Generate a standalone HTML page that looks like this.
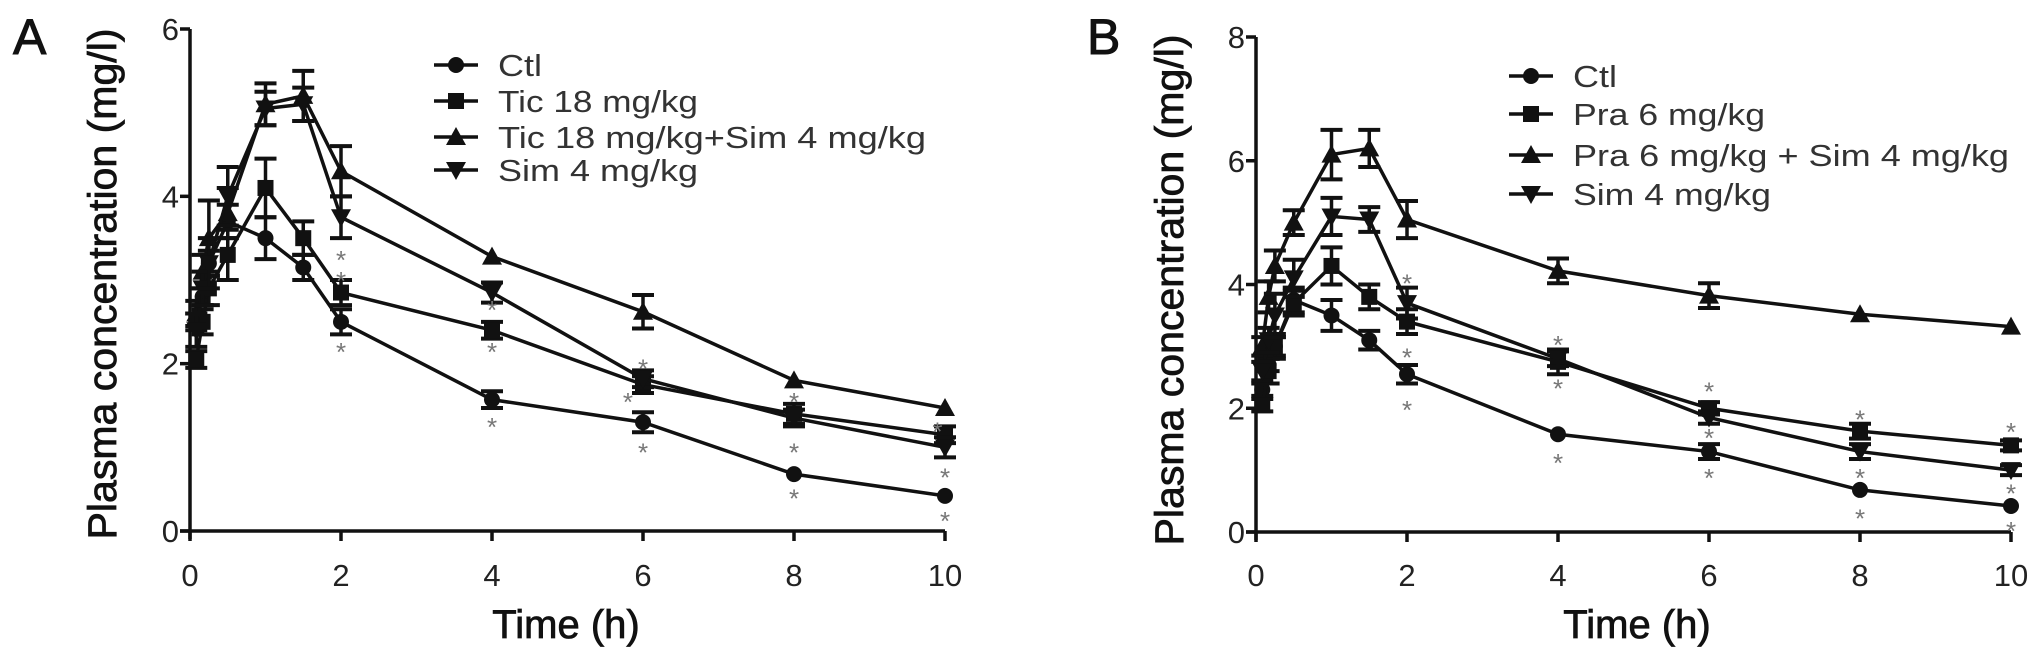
<!DOCTYPE html>
<html><head><meta charset="utf-8"><style>
body{margin:0;background:#fff;}
svg{display:block;font-family:"Liberation Sans",Arial,sans-serif;}
</style></head><body>
<svg id="fig" width="2031" height="657" viewBox="0 0 2031 657" xmlns="http://www.w3.org/2000/svg"></svg>
<script>
// ---- shared data ----
const times = [0.083, 0.167, 0.25, 0.5, 1, 1.5, 2, 4, 6, 8, 10];
const xTicks = [0, 2, 4, 6, 8, 10];
const yTicksA = [0, 2, 4, 6];
const yTicksB = [0, 2, 4, 6, 8];
// Panel A
const namesA = ["Ctl", "Tic 18 mg/kg", "Tic 18 mg/kg+Sim 4 mg/kg", "Sim 4 mg/kg"];
const ctlA    = [2.5, 2.8, 3.2, 3.7, 3.5, 3.15, 2.5, 1.57, 1.3, 0.68, 0.42];
const ticA    = [2.05, 2.5, 2.9, 3.3, 4.1, 3.5, 2.85, 2.4, 1.75, 1.4, 1.15];
const ticSimA = [2.6, 3.1, 3.5, 3.8, 5.1, 5.2, 4.3, 3.28, 2.62, 1.8, 1.47];
const simA    = [2.4, 2.9, 3.2, 4.0, 5.05, 5.1, 3.75, 2.85, 1.82, 1.35, 1.0];
const errCtlA    = [0.1, 0.1, 0.15, 0.2, 0.25, 0.15, 0.15, 0.1, 0.12, 0.05, 0.05];
const errTicA    = [0.1, 0.15, 0.2, 0.3, 0.35, 0.2, 0.15, 0.1, 0.1, 0.12, 0.1];
const errTicSimA = [0.15, 0.2, 0.45, 0.3, 0.25, 0.3, 0.3, 0.05, 0.2, 0.05, 0.05];
const errSimA    = [0.2, 0.2, 0.3, 0.35, 0.2, 0.2, 0.25, 0.12, 0.1, 0.1, 0.12];
const starsA = [[2,3.3],[2,3.05],[2,2.2],[4,2.7],[4,2.2],[4,1.3],[6,2.0],[5.8,1.6],[6,1.0],[8,1.6],[8,1.0],[8,0.45],[9.9,1.25],[10,0.7],[10,0.18]];
// Panel B
const namesB = ["Ctl", "Pra 6 mg/kg", "Pra 6 mg/kg + Sim 4 mg/kg", "Sim 4 mg/kg"];
const ctlB    = [2.3, 2.7, 3.0, 3.75, 3.5, 3.1, 2.55, 1.58, 1.3, 0.68, 0.42];
const praB    = [2.05, 2.6, 3.0, 3.7, 4.3, 3.8, 3.4, 2.75, 2.0, 1.63, 1.4];
const praSimB = [3.0, 3.8, 4.3, 5.0, 6.1, 6.2, 5.05, 4.22, 3.82, 3.52, 3.32];
const simB    = [2.6, 3.1, 3.5, 4.1, 5.1, 5.05, 3.7, 2.8, 1.85, 1.3, 1.0];
const errCtlB    = [0.1, 0.1, 0.15, 0.2, 0.25, 0.15, 0.15, 0.05, 0.12, 0.05, 0.05];
const errPraB    = [0.1, 0.2, 0.2, 0.2, 0.3, 0.2, 0.2, 0.2, 0.1, 0.12, 0.08];
const errPraSimB = [0.15, 0.25, 0.25, 0.2, 0.4, 0.3, 0.3, 0.2, 0.2, 0.05, 0.05];
const errSimB    = [0.15, 0.2, 0.35, 0.3, 0.3, 0.2, 0.25, 0.12, 0.1, 0.12, 0.08];
const starsB = [[2,4.1],[2,2.9],[2,2.05],[4,3.1],[4,2.4],[4,1.2],[6,2.35],[6,1.6],[6,0.95],[8,1.9],[8,0.95],[8,0.3],[10,1.7],[10,0.7],[10,0.1]];

const NS = "http://www.w3.org/2000/svg";
const svg = document.getElementById("fig");
function mk(tag, attrs, parent){const e=document.createElementNS(NS,tag);for(const k in attrs)e.setAttribute(k,attrs[k]);(parent||svg).appendChild(e);return e;}

function marker(g, kind, cx, cy){
  let e;
  if(kind==="circle"){e=mk("circle",{cx:cx,cy:cy,r:8,fill:"#111"},g);}
  else if(kind==="square"){e=mk("rect",{x:cx-8,y:cy-8,width:16,height:16,fill:"#111"},g);}
  else if(kind==="up"){e=mk("polygon",{points:`${cx},${cy-10} ${cx+10},${cy+8} ${cx-10},${cy+8}`,fill:"#111"},g);}
  else {e=mk("polygon",{points:`${cx},${cy+10} ${cx+10},${cy-8} ${cx-10},${cy-8}`,fill:"#111"},g);}
  return e;
}

function panel(cfg){
  const g = mk("g",{});
  
  
  const xS = v => cfg.x0 + v*(cfg.x1-cfg.x0)/10;
  const yS = v => cfg.y0 - v*(cfg.y0-cfg.yTop)/cfg.yMax;
  const ax = mk("line",{x1:cfg.x0,y1:cfg.y0+8,x2:cfg.x0,y2:cfg.yTop,stroke:"#111","stroke-width":3.5},g);
  
  
  const axx = mk("line",{x1:cfg.x0-10,y1:cfg.y0,x2:cfg.x1,y2:cfg.y0,stroke:"#111","stroke-width":3.5},g);
  
  
  cfg.yTicks.forEach(t=>{
    mk("line",{x1:cfg.x0-10,y1:yS(t),x2:cfg.x0,y2:yS(t),stroke:"#111","stroke-width":3.5},g);
    const tx = mk("text",{x:cfg.x0-11,y:yS(t)+11,"text-anchor":"end","font-size":31,fill:"#222"},g);
    tx.textContent=t;
    
    
  });
  xTicks.forEach(t=>{
    mk("line",{x1:xS(t),y1:cfg.y0,x2:xS(t),y2:cfg.y0+10,stroke:"#111","stroke-width":3.5},g);
    const tx = mk("text",{x:xS(t),y:586,"text-anchor":"middle","font-size":31,fill:"#222"},g);
    tx.textContent=t;
    
    
  });
  const xt = mk("text",{x:cfg.xTitleX,y:638,"text-anchor":"middle","font-size":40,fill:"#111",stroke:"#111","stroke-width":0.8},g);
  xt.textContent="Time (h)";
  
  
  const yt = mk("text",{x:0,y:0,"text-anchor":"middle","font-size":40,fill:"#111",stroke:"#111","stroke-width":0.8,transform:`translate(${cfg.yTitleX},${cfg.yTitleY}) rotate(-90)`,textLength:511,lengthAdjust:"spacingAndGlyphs"},g);
  yt.textContent="Plasma concentration (mg/l)";
  
  
  const pl = mk("text",{x:cfg.labelX,y:54,"font-size":50,fill:"#111",stroke:"#111","stroke-width":1},g);
  pl.textContent=cfg.label;
  
  
  const kinds=["circle","square","up","down"];
  cfg.series.forEach((s,i)=>{
    const sg = mk("g",{},g);
    
    
    const pts = times.map((t,j)=>`${xS(t)},${yS(s[j])}`).join(" ");
    mk("polyline",{points:pts,fill:"none",stroke:"#111","stroke-width":3.5},sg);
    times.forEach((t,j)=>{
      const e=cfg.errs[i][j], cx=xS(t);
      if(e>0.06){
        mk("line",{x1:cx,y1:yS(s[j]+e),x2:cx,y2:yS(s[j]-e),stroke:"#111","stroke-width":3.5},sg);
        mk("line",{x1:cx-11,y1:yS(s[j]+e),x2:cx+11,y2:yS(s[j]+e),stroke:"#111","stroke-width":4},sg);
        mk("line",{x1:cx-11,y1:yS(s[j]-e),x2:cx+11,y2:yS(s[j]-e),stroke:"#111","stroke-width":4},sg);
      }
      const m=marker(sg,kinds[i],cx,yS(s[j]));
      
      
    });
  });
  cfg.stars.forEach(st=>{
    const tx=mk("text",{x:xS(st[0]),y:yS(st[1])+14,"text-anchor":"middle","font-size":26,fill:"#777"},g);
    tx.textContent="*";
    
    
  });
  const lg = mk("g",{},g);
  
  
  cfg.names.forEach((n,i)=>{
    const y=cfg.legY[i];
    const eg = mk("g",{},lg);
    
    
    mk("line",{x1:cfg.legX-22,y1:y,x2:cfg.legX+22,y2:y,stroke:"#111","stroke-width":3.5},eg);
    marker(eg,kinds[i],cfg.legX,y);
    const tx=mk("text",{x:cfg.legX+42,y:y+11,"font-size":31,fill:"#333",textLength:cfg.legW[i],lengthAdjust:"spacingAndGlyphs"},eg);
    tx.textContent=n;
  });
}

panel({id:"panel-a",label:"A",labelX:13,x0:190,x1:945,y0:531,yTop:29,yMax:6,yTicks:yTicksA,
  series:[ctlA,ticA,ticSimA,simA],errs:[errCtlA,errTicA,errTicSimA,errSimA],stars:starsA,
  names:namesA,legX:456,legY:[65,101,137,170],legW:[44,200,428,200],
  xTitleX:566,yTitleX:116,yTitleY:284});
panel({id:"panel-b",label:"B",labelX:1087,x0:1256,x1:2011,y0:532,yTop:37,yMax:8,yTicks:yTicksB,
  series:[ctlB,praB,praSimB,simB],errs:[errCtlB,errPraB,errPraSimB,errSimB],stars:starsB,
  names:namesB,legX:1531,legY:[76,114,155,194],legW:[44,192,436,198],
  xTitleX:1637,yTitleX:1183,yTitleY:290});
</script>
</body></html>
